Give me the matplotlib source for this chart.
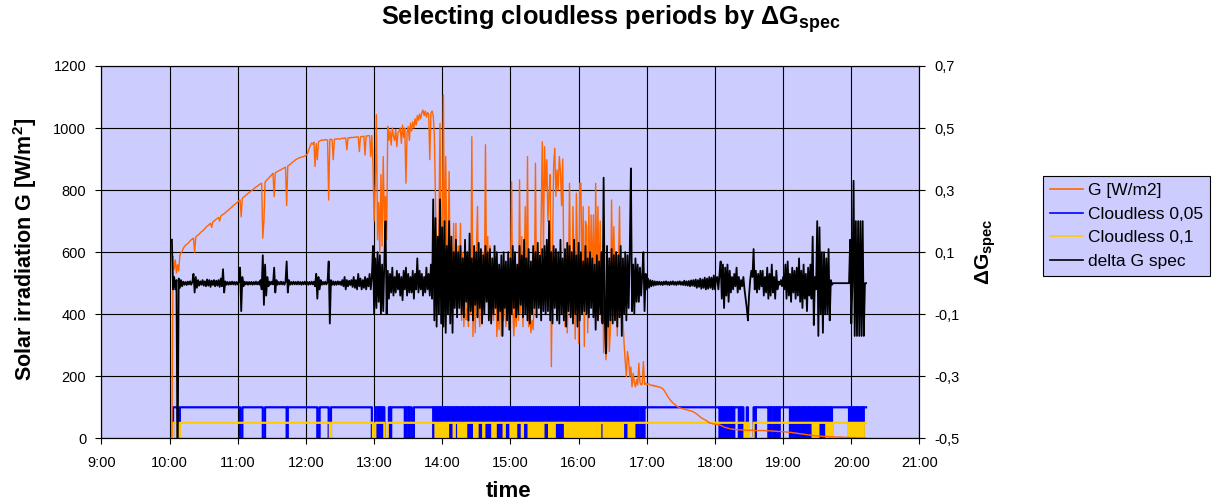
import matplotlib
matplotlib.use("Agg")
import matplotlib.pyplot as plt
import numpy as np

plt.rcParams['font.family'] = ['Liberation Sans', 'DejaVu Sans']
plt.rcParams['mathtext.fontset'] = 'custom'
plt.rcParams['mathtext.rm'] = 'Liberation Sans'
plt.rcParams['mathtext.bf'] = 'Liberation Sans:bold'
plt.rcParams['mathtext.it'] = 'Liberation Sans:italic'
plt.rcParams['path.simplify'] = False   # keep every zigzag of the dense signals

# one reading per minute, first one at 10:02
first_sample = 10 + 2 / 60

# solar irradiation G [W/m2], rows of 10 minutes
G = [
    0, 586, 545, 575, 533, 560, 540, 590, 597, 603,            # 10:02
    612, 618, 622, 625, 628, 632, 636, 640, 642, 645,          # 10:12
    600, 648, 652, 655, 658, 662, 666, 668, 672, 676,          # 10:22
    680, 684, 686, 690, 693, 680, 697, 700, 703, 706,          # 10:32
    709, 712, 700, 716, 719, 722, 724, 727, 731, 733,          # 10:42
    736, 740, 743, 746, 750, 753, 756, 759, 762, 766,          # 10:52
    768, 714, 774, 777, 780, 783, 786, 789, 792, 795,          # 11:02
    798, 801, 804, 807, 810, 812, 815, 818, 820, 822,          # 11:12
    645, 700, 826, 830, 834, 838, 842, 846, 850, 854,          # 11:22
    779, 856, 858, 860, 862, 864, 866, 868, 870, 872,          # 11:32
    874, 750, 878, 880, 883, 886, 889, 892, 895, 898,          # 11:42
    900, 902, 904, 905, 906, 907, 908, 910, 912, 915,          # 11:52
    925, 935, 945, 952, 948, 955, 876, 950, 898, 955,          # 12:02
    958, 960, 962, 960, 962, 963, 961, 962, 768, 963,          # 12:12
    964, 962, 898, 963, 965, 964, 966, 965, 964, 966,          # 12:22
    967, 966, 968, 967, 930, 968, 969, 968, 970, 969,          # 12:32
    970, 971, 970, 972, 971, 924, 972, 973, 972, 974,          # 12:42
    913, 975, 974, 976, 975, 908, 976, 876, 700, 820,          # 12:52
    1043, 640, 760, 597, 850, 620, 908, 700, 780, 640,         # 13:02
    1005, 960, 990, 945, 1000, 975, 960, 995, 940, 985,        # 13:12
    990, 1000, 950, 1010, 970, 1000, 822, 985, 1005, 960,      # 13:22
    1016, 990, 1020, 1000, 1030, 1010, 1040, 1025, 1045, 1030, # 13:32
    1050, 1058, 1040, 1055, 1035, 1050, 1045, 898, 1048, 1055, # 13:42
    1040, 980, 768, 560, 446, 680, 1015, 500, 620, 1107,       # 13:52
    553, 908, 600, 575, 860, 480, 650, 414, 693, 430,          # 14:02
    693, 446, 620, 500, 693, 380, 600, 360, 607, 382,          # 14:12
    420, 360, 550, 400, 972, 328, 500, 340, 600, 747,          # 14:22
    420, 360, 520, 400, 600, 450, 946, 500, 650, 400,          # 14:32
    620, 450, 520, 380, 480, 585, 328, 420, 350, 500,          # 14:42
    330, 450, 380, 500, 360, 420, 550, 400, 480, 827,          # 14:52
    420, 330, 446, 360, 500, 380, 833, 400, 650, 360,          # 15:02
    520, 747, 450, 908, 360, 420, 340, 380, 350, 460,          # 15:12
    887, 420, 500, 560, 450, 700, 956, 600, 940, 800,          # 15:22
    898, 700, 790, 850, 231, 600, 880, 935, 780, 865,          # 15:32
    800, 908, 860, 750, 900, 520, 360, 600, 340, 500,          # 15:42
    822, 450, 400, 747, 560, 320, 790, 600, 306, 822,          # 15:52
    822, 500, 747, 296, 700, 682, 340, 747, 460, 720,          # 16:02
    480, 720, 400, 822, 500, 747, 450, 700, 380, 600,          # 16:12
    275, 400, 253, 300, 500, 280, 350, 768, 500, 682,          # 16:22
    468, 600, 330, 550, 747, 420, 580, 380, 306, 250,          # 16:32
    199, 280, 253, 200, 230, 166, 210, 180, 166, 190,          # 16:42
    172, 242, 180, 172, 176, 247, 174, 178, 172, 176,          # 16:52
    175, 172, 170, 172, 168, 170, 167, 168, 165, 166,          # 17:02
    164, 162, 160, 156, 150, 144, 138, 132, 127, 122,          # 17:12
    118, 114, 111, 108, 105, 102, 100, 98, 97, 96,             # 17:22
    95, 94, 93, 92, 91, 90, 89, 88, 87, 85,                    # 17:32
    83, 81, 78, 75, 72, 69, 66, 64, 62, 60,                    # 17:42
    58, 56, 53, 50, 49, 48, 47, 46, 46, 45,                    # 17:52
    45, 44, 43, 42, 40, 38, 36, 35, 34, 33,                    # 18:02
    32, 31, 30, 30, 29, 29, 28, 28, 28, 27,                    # 18:12
    27, 27, 27, 27, 27, 26, 26, 26, 26, 26,                    # 18:22
    26, 26, 26, 25, 25, 25, 25, 25, 25, 25,                    # 18:32
    25, 25, 25, 24, 24, 24, 24, 24, 24, 23,                    # 18:42
    23, 23, 23, 22, 22, 22, 22, 21, 21, 21,                    # 18:52
    21, 20, 20, 20, 19, 19, 18, 18, 17, 17,                    # 19:02
    16, 16, 15, 15, 14, 14, 13, 13, 12, 12,                    # 19:12
    11, 11, 10, 10, 9, 9, 8, 8, 8, 7,                          # 19:22
    7, 7, 7, 6, 6, 6, 6, 6, 5, 5,                              # 19:32
    5, 5, 5, 5, 4, 4, 4, 4, 4, 4,                              # 19:42
    4, 3, 3, 3, 3, 3, 3, 2, 2, 2,                              # 19:52
    2, 2, 2, 1, 1, 1, 1, 1, 1, 1,                              # 20:02
    1, 0,                                                      # 20:12
]

# delta G spec, same minutes
dG = [
    0.14, -0.02, 0.02, -0.02, 0.01, -0.6, 0.015, -0.015, 0.01, -0.01,            # 10:02
    0.005, -0.005, 0.004, -0.006, 0.005, -0.004, 0.006, -0.005, 0.004, 0.03,     # 10:12
    -0.03, 0.02, -0.015, 0.01, -0.008, 0.006, -0.005, 0.01, -0.008, 0.006,       # 10:22
    -0.01, 0.012, -0.008, 0.01, -0.012, 0.008, -0.006, 0.01, -0.01, 0.008,       # 10:32
    -0.008, 0.01, -0.012, 0.015, -0.01, 0.045, -0.03, 0.006, -0.005, 0.004,      # 10:42
    -0.005, 0.004, -0.004, 0.005, -0.004, 0.004, -0.005, 0.004, -0.004, 0.005,   # 10:52
    0.05, -0.09, 0.02, -0.01, 0.005, -0.004, 0.004, -0.005, 0.004, -0.004,       # 11:02
    0.004, -0.005, 0.004, -0.004, 0.005, -0.004, 0.004, -0.005, 0.01, -0.02,     # 11:12
    0.09, -0.07, 0.06, -0.04, 0.02, -0.01, 0.005, -0.004, 0.005, -0.004,         # 11:22
    0.05, -0.03, 0.01, -0.005, 0.004, -0.004, 0.005, -0.004, 0.004, -0.005,      # 11:32
    0.004, 0.07, -0.03, 0.01, -0.005, 0.004, -0.004, 0.005, -0.004, 0.004,       # 11:42
    -0.004, 0.005, -0.004, 0.004, -0.005, 0.004, -0.004, 0.005, -0.004, 0.004,   # 11:52
    -0.005, 0.004, -0.004, 0.005, -0.004, 0.005, -0.01, 0.03, -0.05, 0.02,       # 12:02
    -0.02, 0.01, -0.005, 0.004, -0.004, 0.005, -0.004, 0.004, 0.07, -0.13,       # 12:12
    0.01, -0.005, 0.006, -0.006, 0.005, -0.005, 0.006, -0.004, 0.005, -0.006,    # 12:22
    0.01, -0.01, 0.02, -0.02, 0.01, -0.01, 0.008, -0.006, 0.01, -0.012,          # 12:32
    0.02, -0.015, 0.01, -0.02, 0.03, -0.01, 0.015, -0.02, 0.01, -0.015,          # 12:42
    0.02, -0.02, 0.015, -0.01, 0.03, -0.02, 0.02, 0.12, -0.1, 0.08,              # 12:52
    -0.08, 0.1, -0.06, 0.09, -0.1, 0.06, -0.09, 0.07, 0.2, -0.1,                 # 13:02
    0.04, -0.05, 0.03, -0.03, 0.05, -0.04, 0.02, -0.03, 0.04, -0.02,             # 13:12
    0.03, -0.04, 0.02, -0.055, 0.04, -0.02, 0.05, -0.04, 0.03, -0.03,            # 13:22
    0.02, -0.03, 0.04, -0.05, 0.03, -0.02, 0.08, -0.03, 0.04, -0.02,             # 13:32
    0.03, -0.04, 0.02, -0.03, 0.05, -0.02, 0.03, -0.04, 0.06, -0.05,             # 13:42
    0.27, -0.12, 0.21, -0.14, 0.15, -0.1, 0.27, -0.13, 0.18, -0.14,              # 13:52
    0.2, -0.16, 0.12, -0.1, 0.2, -0.13, 0.15, -0.16, 0.1, -0.08,                 # 14:02
    0.14, -0.11, 0.1, -0.08, 0.12, -0.1, 0.08, -0.11, 0.14, -0.06,               # 14:12
    0.1, -0.12, 0.16, -0.09, 0.08, -0.12, 0.12, -0.07, 0.1, -0.11,               # 14:22
    0.13, -0.08, 0.11, -0.13, 0.09, -0.1, 0.12, -0.06, 0.1, -0.12,               # 14:32
    0.11, -0.13, 0.08, -0.1, 0.12, -0.08, 0.1, -0.12, 0.06, -0.09,               # 14:42
    0.09, -0.17, 0.1, -0.08, 0.07, -0.12, 0.1, -0.15, 0.08, -0.1,                # 14:52
    0.12, -0.08, 0.1, -0.11, 0.06, -0.1, 0.12, -0.07, 0.09, -0.11,               # 15:02
    0.14, -0.1, 0.08, -0.12, 0.11, -0.13, 0.07, -0.1, 0.12, -0.08,               # 15:12
    0.1, -0.11, 0.13, -0.08, 0.09, -0.12, 0.11, -0.09, 0.12, -0.1,               # 15:22
    0.14, -0.09, 0.2, -0.12, 0.1, -0.13, 0.12, -0.08, 0.11, -0.12,               # 15:32
    0.1, -0.13, 0.14, -0.1, 0.08, -0.12, 0.11, -0.14, 0.13, -0.09,               # 15:42
    0.12, -0.11, 0.1, -0.13, 0.14, -0.1, 0.09, -0.14, 0.13, -0.12,               # 15:52
    0.1, -0.1, 0.07, -0.09, 0.12, -0.1, 0.08, -0.11, 0.1, -0.08,                 # 16:02
    0.08, -0.11, 0.06, -0.15, 0.09, -0.12, 0.07, -0.1, 0.1, -0.13,               # 16:12
    0.34, -0.1, -0.226, 0.12, -0.14, 0.08, -0.12, 0.11, -0.13, 0.09,             # 16:22
    -0.12, 0.1, -0.14, 0.09, -0.11, 0.12, -0.17, 0.08, -0.1, 0.1,                # 16:32
    -0.12, 0.09, -0.08, 0.1, 0.37, -0.09, 0.06, -0.1, 0.08, -0.06,               # 16:42
    0.06, -0.06, 0.05, -0.04, 0.03, 0.1, -0.09, 0.03, -0.02, 0.015,              # 16:52
    -0.015, 0.01, -0.01, 0.008, -0.008, 0.006, -0.006, 0.005, -0.005, 0.005,     # 17:02
    -0.005, 0.004, -0.006, 0.005, -0.004, 0.006, -0.005, 0.004, -0.006, 0.005,   # 17:12
    -0.004, 0.006, -0.005, 0.004, -0.006, 0.005, -0.004, 0.006, -0.005, 0.004,   # 17:22
    -0.006, 0.008, -0.007, 0.006, -0.008, 0.007, -0.01, 0.009, -0.008, 0.01,     # 17:32
    -0.01, 0.012, -0.015, 0.01, -0.012, 0.015, -0.018, 0.012, -0.015, 0.018,     # 17:42
    -0.02, 0.015, -0.018, 0.02, -0.015, 0.018, -0.02, 0.025, -0.02, 0.015,       # 17:52
    0.02, -0.02, 0.03, 0.07, -0.05, 0.06, -0.08, 0.05, -0.04, 0.06,              # 18:02
    -0.06, 0.04, -0.03, 0.02, -0.02, 0.03, -0.01, 0.05, -0.03, 0.02,             # 18:12
    -0.02, 0.01, -0.01, 0.02, -0.02, -0.05, -0.08, -0.12, -0.04, 0.01,           # 18:22
    0.04, 0.02, 0.11, -0.02, 0.04, -0.03, 0.03, -0.02, 0.04, -0.01,              # 18:32
    0.04, -0.04, 0.02, -0.03, 0.05, -0.05, 0.03, -0.04, 0.06, -0.03,             # 18:42
    0.02, -0.05, 0.04, -0.02, 0.005, -0.005, 0.01, -0.01, 0.02, -0.02,           # 18:52
    0.06, -0.05, 0.07, -0.04, 0.03, -0.06, 0.05, -0.03, 0.04, -0.05,             # 19:02
    0.05, -0.04, 0.08, -0.06, 0.04, -0.08, 0.06, -0.05, 0.03, -0.09,             # 19:12
    0.05, -0.04, 0.06, -0.05, 0.15, -0.135, 0.02, -0.02, 0.2, -0.17,             # 19:22
    0.18, -0.1, 0.1, -0.16, 0.1, -0.1, 0.08, -0.1, 0.11, -0.12,                  # 19:32
    0.01, -0.005, 0, 0, 0, 0, 0, 0, 0, 0,                                        # 19:42
    0, 0, 0, 0, 0, 0, 0, 0.14, -0.13, 0,                                         # 19:52
    0.33, -0.17, 0.2, -0.17, 0.2, -0.17, 0.2, -0.17, 0.2, -0.17,                 # 20:02
    0, 0,                                                                        # 20:12
]

# cloudless flags per minute ('1' = cloudless), thresholds 0,05 and 0,1
cloudless_005 = (
    "0111100111" "1111111111" "1111111111" "1111111111" "1111111111"   # 10:02-10:51
    "1111111111" "0011111111" "1111111111" "0011111111" "1111111111"   # 10:52-11:41
    "1011111111" "1111111111" "1111111100" "1111111100" "1111111111"   # 11:42-12:31
    "1111111111" "1111111111" "1111110001" "1010101000" "0101111111"   # 12:32-13:21
    "1111101101" "1001111111" "1111111111" "0101010101" "0101010101"   # 13:22-14:11
    "0101010101" "0101010101" "0101010101" "0101010101" "0101010101"   # 14:12-15:01
    "0101010101" "0101010101" "0101010101" "0101010101" "0101010101"   # 15:02-15:51
    "0101010101" "0101010101" "0101010101" "0101010101" "0101010101"   # 15:52-16:41
    "0101010101" "0110101111" "1111111111" "1111111111" "1111111111"   # 16:42-17:31
    "1111111111" "1111111111" "1111111111" "1101010101" "0101011110"   # 17:32-18:21
    "1010001000" "0010111111" "1111101011" "0101011111" "1111010101"   # 18:22-19:11
    "0101010101" "0101010101" "0101010101" "0111111111" "1111110101"   # 19:12-20:01
    "0101010101" "11"                                                  # 20:02-20:13
)
cloudless_01 = (
    "0111100111" "1111111111" "1111111111" "1111111111" "1111111111"
    "1111111111" "1111111111" "1111111111" "1111111111" "1111111111"
    "1111111111" "1111111111" "1111111111" "1111111110" "1111111111"
    "1111111111" "1111111111" "1111111001" "1111111000" "1111111111"
    "1111111111" "1111111111" "1111111111" "1101010101" "0101111101"
    "1101010101" "1111110101" "1111011111" "1101011111" "1101111101"
    "0101111101" "1111010101" "0101010111" "1101010111" "1111110101"
    "0101010101" "0101010101" "0101010111" "0101010101" "0101010111"
    "1101010111" "1111111111" "1111111111" "1111111111" "1111111111"
    "1111111111" "1111111111" "1111111111" "1111111111" "1111111111"
    "1111001100" "0011111111" "1111111111" "1111111111" "1111111111"
    "1111111111" "1111010101" "1111110101" "0111111111" "1111110101"
    "0101010101" "11"
)

hour_ticks = list(range(9, 22))
hour_labels = ['%d:00' % h for h in hour_ticks]
g_ticks = [0, 200, 400, 600, 800, 1000, 1200]
dg_ticks = [-0.5, -0.3, -0.1, 0.1, 0.3, 0.5, 0.7]
dg_labels = ['-0,5', '-0,3', '-0,1', '0,1', '0,3', '0,5', '0,7']

t = first_sample + np.arange(len(G)) / 60
flag_005 = np.array([100 if c == '1' else 0 for c in cloudless_005])
flag_01 = np.array([50 if c == '1' else 0 for c in cloudless_01])

fig = plt.figure(figsize=(12.18, 5.03), dpi=100)
ax = fig.add_axes([0.0833, 0.1286, 0.6716, 0.7402])
ax.set_facecolor('#CCCCFF')

h_b, = ax.plot(t, flag_005, color='#0000FF', lw=1.6, drawstyle='steps-post',
               zorder=2, label='Cloudless 0,05')
h_y, = ax.plot(t, flag_01, color='#FFCC00', lw=1.6, drawstyle='steps-post',
               zorder=2.5, label='Cloudless 0,1')
h_g, = ax.plot(t, G, color='#FF6600', lw=1.0, zorder=3, label='G [W/m2]')

ax.set_xlim(9, 21)
ax.set_ylim(0, 1200)
ax.set_xticks(hour_ticks)
ax.set_xticklabels(hour_labels)
ax.set_yticks(g_ticks)
ax.grid(True, color='black', lw=0.8)
ax.set_axisbelow(True)
ax.tick_params(direction='out', length=4, width=0.8, labelsize=10.5, pad=7)
ax.tick_params(axis='x', pad=9)
for s in ax.spines.values():
    s.set_linewidth(0.8)

ax2 = ax.twinx()
h_d, = ax2.plot(t, dG, color='black', lw=1.3, label='delta G spec')
ax2.set_ylim(-0.5, 0.7)
ax2.set_yticks(dg_ticks)
ax2.set_yticklabels(dg_labels)
ax2.tick_params(direction='out', length=4, width=0.8, labelsize=10.5, pad=7)

ax.set_xlabel('time', fontsize=16, fontweight='bold', va='center')
ax.xaxis.set_label_coords(0.498, -0.144)
ax.set_ylabel(r'Solar irradiation G [W/m$^{\mathbf{2}}$]', fontsize=15.5,
              fontweight='bold', va='center')
ax.yaxis.set_label_coords(-0.0935, 0.508)
ax2.set_ylabel(r'$\mathbf{\Delta G_{spec}}$', fontsize=15, va='center')
ax2.yaxis.set_label_coords(1.0813, 0.50)

fig.text(0.5016, 0.962, r'Selecting cloudless periods by $\mathbf{\Delta G_{spec}}$',
         ha='center', va='center', fontsize=18.3, fontweight='bold')

leg = fig.legend(handles=[h_g, h_b, h_y, h_d], loc='upper left',
                 bbox_to_anchor=(0.8563, 0.6501), borderaxespad=0,
                 fancybox=False, edgecolor='black', facecolor='#CCCCFF',
                 framealpha=1, fontsize=12.5, handlelength=1.9,
                 handletextpad=0.3, labelspacing=0.49, borderpad=0.4)
leg.get_frame().set_linewidth(0.8)
for line in leg.get_lines():
    line.set_linewidth(1.2)

fig.savefig('out.png', dpi=100)
